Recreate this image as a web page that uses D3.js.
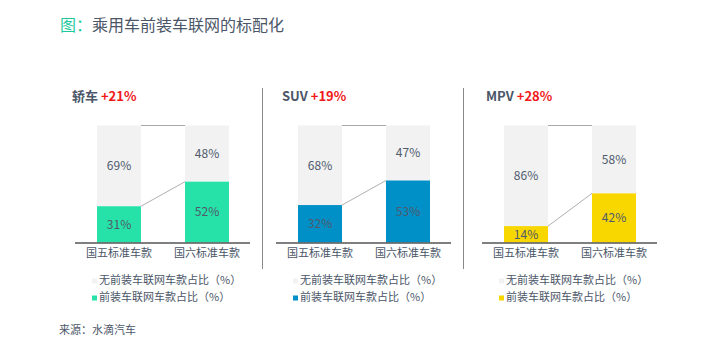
<!DOCTYPE html>
<html>
<head>
<meta charset="utf-8">
<script src="https://cdn.jsdelivr.net/npm/d3@7"></script>
<style>
  body { margin: 0; background: #fff; }
  text { font-family: "Noto Sans CJK SC", "Noto Sans", sans-serif; }
</style>
</head>
<body>
<div id="chart"></div>
<script>
// data
var panels = ["轿车", "SUV", "MPV"];
var growth = ["+21%", "+19%", "+28%"];
var categories = ["国五标准车款", "国六标准车款"];
var withNet = [[31, 52], [32, 53], [14, 42]];
var withoutNet = [[69, 48], [68, 47], [86, 58]];
var seriesNames = ["无前装车联网车款占比（%）", "前装车联网车款占比（%）"];
var panelColors = ["#27e2a8", "#0090c8", "#f8d600"];

var W = 720, H = 354;
var panelLeft = [75, 276, 482];
var titleLeft = [72, 282, 486];
var panelWidth = 176;
var plotTop = 125.5, plotBase = 242.5;
var greyBar = "#f2f2f2";
var textColor = "#4b5668";

var svg = d3.select("#chart").append("svg")
    .attr("width", W)
    .attr("height", H);

var title = svg.append("text")
    .attr("x", 60)
    .attr("y", 27)
    .style("font-size", "16px")
    .style("dominant-baseline", "middle");
title.append("tspan").style("fill", "#1ec99d").text("图：");
title.append("tspan").style("fill", textColor).text("乘用车前装车联网的标配化");

var x = d3.scaleBand().domain(categories).range([0, panelWidth]).paddingInner(0.5).paddingOuter(0.25);
var y = d3.scaleLinear().domain([0, 100]).range([plotBase, plotTop]);

panels.forEach(function(p, i){
  var g = svg.append("g")
      .attr("transform", "translate(" + panelLeft[i] + ",0)");

  var t = svg.append("text")
      .attr("x", titleLeft[i])
      .attr("y", 97)
      .style("font-size", "13px")
      .style("font-weight", 700)
      .style("dominant-baseline", "middle");
  t.append("tspan").style("fill", textColor).text(p + " ");
  t.append("tspan").style("fill", "#f01818").text(growth[i]);

  var rows = categories.map(function(c, j){
    return {cat: c, a: withNet[i][j], b: withoutNet[i][j]};
  });

  // grey part (stacked on top)
  g.selectAll("rect.grey")
      .data(rows).enter()
    .append("rect")
      .attr("class", "grey")
      .attr("x", d=>x(d.cat))
      .attr("width", x.bandwidth())
      .attr("y", d=>y(d.a + d.b))
      .attr("height", d=>y(d.a) - y(d.a + d.b))
      .style("fill", greyBar);

  g.selectAll("rect.col")
      .data(rows).enter()
    .append("rect")
      .attr("class", "col")
      .attr("x", d=>x(d.cat))
      .attr("width", x.bandwidth())
      .attr("y", d=>y(d.a))
      .attr("height", d=>y(0) - y(d.a))
      .style("fill", panelColors[i]);

  // connectors
  g.append("line")
      .attr("x1", x(categories[0]) + x.bandwidth())
      .attr("x2", x(categories[1]))
      .attr("y1", y(100))
      .attr("y2", y(100))
      .style("stroke", "#a8a8a8")
      .style("stroke-width", 1);

  g.append("line")
      .attr("x1", x(categories[0]) + x.bandwidth())
      .attr("x2", x(categories[1]))
      .attr("y1", y(rows[0].a))
      .attr("y2", y(rows[1].a))
      .style("stroke", "#b0b0b0")
      .style("stroke-width", 1);

  // value labels
  g.selectAll("text.lo")
      .data(rows).enter()
    .append("text")
      .attr("x", d=>x(d.cat) + x.bandwidth()/2)
      .attr("y", d=>(y(0) + y(d.a))/2 + 1)
      .style("text-anchor", "middle")
      .style("dominant-baseline", "middle")
      .style("font-size", "12px")
      .style("fill", "#4f5a6c")
      .text(d=>d.a + "%");

  g.selectAll("text.hi")
      .data(rows).enter()
    .append("text")
      .attr("x", d=>x(d.cat) + x.bandwidth()/2)
      .attr("y", d=>(y(d.a) + y(d.a + d.b))/2 + 1)
      .style("text-anchor", "middle")
      .style("dominant-baseline", "middle")
      .style("font-size", "12px")
      .style("fill", "#4f5a6c")
      .text(d=>d.b + "%");

  var axis = g.append("g")
      .attr("transform", "translate(0," + plotBase + ")")
      .call(d3.axisBottom(x).tickSize(0).tickPadding(7));
  axis.select("path.domain")
      .attr("d", "M0,0.5H" + (panelWidth - 1))
      .style("stroke", "#555")
      .style("stroke-width", 1.3);
  axis.selectAll("text")
      .style("font-size", "11px")
      .style("fill", textColor)
      .style("font-family", "'Noto Sans CJK SC', sans-serif");

  // legend
  var lg = g.selectAll("g.legend")
      .data(seriesNames).enter()
    .append("g")
      .attr("class", "legend")
      .attr("transform", (d,k)=>"translate(17," + (281 + k*17) + ")");
  lg.append("rect")
      .attr("x", 0)
      .attr("y", -2.5)
      .attr("width", 5)
      .attr("height", 5)
      .style("fill", (d,k)=> k == 0 ? greyBar : panelColors[i]);
  lg.append("text")
      .attr("x", 7)
      .style("dominant-baseline", "middle")
      .style("font-size", "11px")
      .style("fill", textColor)
      .text(d=>d);
});

// separators
svg.selectAll("line.sep")
    .data([262.5, 463.5]).enter()
  .append("line")
    .attr("class", "sep")
    .attr("x1", d=>d).attr("x2", d=>d)
    .attr("y1", 88).attr("y2", 269)
    .style("stroke", "#888")
    .style("stroke-width", 1);

svg.append("text")
    .attr("x", 59)
    .attr("y", 331)
    .style("dominant-baseline", "middle")
    .style("font-size", "11px")
    .style("fill", textColor)
    .text("来源：水滴汽车");
</script>
</body>
</html>
